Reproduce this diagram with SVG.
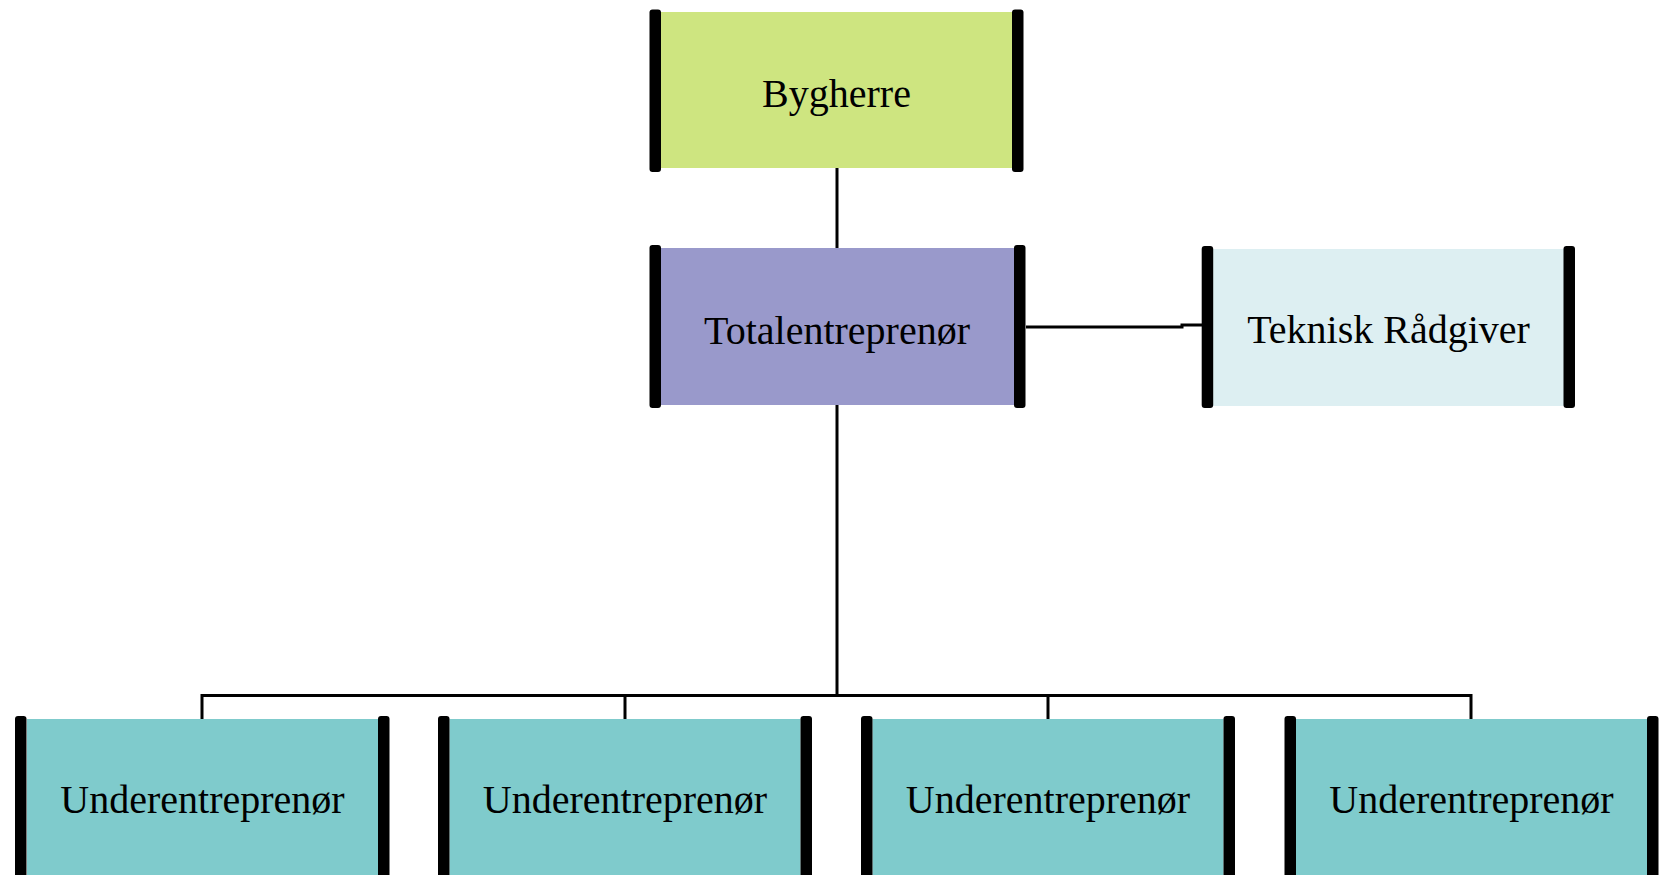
<svg xmlns="http://www.w3.org/2000/svg" width="1660" height="875" viewBox="0 0 1660 875">
<style>
.bar{fill:#000}
.lbl{font-family:"Liberation Serif","Times New Roman",serif;font-size:40px;fill:#000;text-anchor:middle}
.con{fill:none;stroke:#000;stroke-width:3}
</style>
<rect width="1660" height="875" fill="#fff"/>
<g id="connectors">
<line class="con" x1="837" y1="168" x2="837" y2="249"/>
<line class="con" x1="837" y1="405" x2="837" y2="696"/>
<path class="con" d="M1026,327 H1182 V325 H1203"/>
<path class="con" d="M202,719 V695.5 H1471 V719"/>
<line class="con" x1="625" y1="695.5" x2="625" y2="719"/>
<line class="con" x1="1048" y1="695.5" x2="1048" y2="719"/>
</g>
<g id="bygherre">
<rect x="661" y="12" width="351" height="156" fill="#CEE580"/>
<rect class="bar" x="649.5" y="9.5" width="11.5" height="162.5" rx="3"/>
<rect class="bar" x="1012" y="9.5" width="11.5" height="162.5" rx="3"/>
<text class="lbl" x="836.5" y="107">Bygherre</text>
</g>
<g id="totalentreprenor">
<rect x="661" y="248" width="353" height="157" fill="#9999CB"/>
<rect class="bar" x="649.5" y="245" width="11.5" height="163" rx="3"/>
<rect class="bar" x="1014" y="245" width="11.5" height="163" rx="3"/>
<text class="lbl" x="837" y="344">Totalentreprenør</text>
</g>
<g id="teknisk">
<rect x="1213" y="249" width="351" height="157" fill="#DDEFF2"/>
<rect class="bar" x="1201.7" y="246" width="11.5" height="162" rx="3"/>
<rect class="bar" x="1563.5" y="246" width="11.5" height="162" rx="3"/>
<text class="lbl" x="1388.5" y="343">Teknisk Rådgiver</text>
</g>
<g id="under1">
<rect x="27" y="719" width="351" height="160" fill="#7FCBCC"/>
<rect class="bar" x="15" y="716" width="11.5" height="165" rx="3"/>
<rect class="bar" x="378" y="716" width="11.5" height="165" rx="3"/>
<text class="lbl" x="202.5" y="813">Underentreprenør</text>
</g>
<g id="under2">
<rect x="449.5" y="719" width="351" height="160" fill="#7FCBCC"/>
<rect class="bar" x="438" y="716" width="11.5" height="165" rx="3"/>
<rect class="bar" x="800.5" y="716" width="11.5" height="165" rx="3"/>
<text class="lbl" x="625" y="813">Underentreprenør</text>
</g>
<g id="under3">
<rect x="872.5" y="719" width="351" height="160" fill="#7FCBCC"/>
<rect class="bar" x="861" y="716" width="11.5" height="165" rx="3"/>
<rect class="bar" x="1223.5" y="716" width="11.5" height="165" rx="3"/>
<text class="lbl" x="1048" y="813">Underentreprenør</text>
</g>
<g id="under4">
<rect x="1296" y="719" width="351" height="160" fill="#7FCBCC"/>
<rect class="bar" x="1284.5" y="716" width="11.5" height="165" rx="3"/>
<rect class="bar" x="1647" y="716" width="11.5" height="165" rx="3"/>
<text class="lbl" x="1471.5" y="813">Underentreprenør</text>
</g>
</svg>
